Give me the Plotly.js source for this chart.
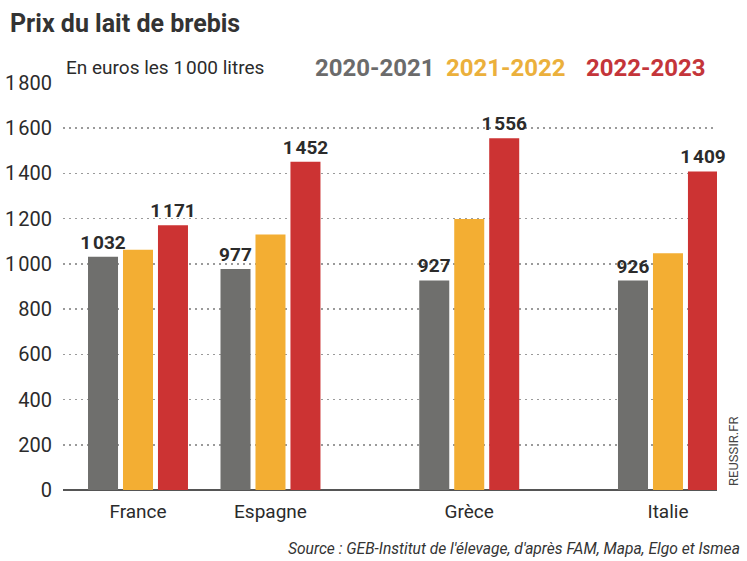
<!DOCTYPE html>
<html>
<head>
<meta charset="utf-8">
<script src="https://cdn.plot.ly/plotly-3.0.1.min.js"></script>
<style>
html,body{margin:0;padding:0;background:#fff;}
#chart{width:747px;height:561px;}
</style>
</head>
<body>
<div id="chart"></div>
<script>
// ---- data ----
const countries = ["France", "Espagne", "Grèce", "Italie"];
const seasons = ["2020-2021", "2021-2022", "2022-2023"];
const prix2020_2021 = [1032, 977, 927, 926];
const prix2021_2022 = [1062, 1130, 1198, 1047];
const prix2022_2023 = [1171, 1452, 1556, 1409];
const yTicks = [0, 200, 400, 600, 800, 1000, 1200, 1400, 1600, 1800];
const yTickLabels = ["0", "200", "400", "600", "800", "1\u200A000", "1\u200A200", "1\u200A400", "1\u200A600", "1\u200A800"];

// ---- styles ----
const colors = ["#6f6f6d", "#f3ae33", "#cc3333"];
const legendColors = ["#6b6b6b", "#ebb03c", "#c4353a"];
const font = "Roboto, sans-serif";
// spacer slots so the groups sit where the original places them
const axisSlots = ["France", "s1", "Espagne", "s2", "s3", "Grèce", "s4", "s5", "Italie"];

function fmt(v){
  const s = String(v);
  return s.length > 3 ? s.slice(0, s.length-3) + "\u200A" + s.slice(-3) : s;
}

const barW = 0.453;
const step = 0.528;
const series = [prix2020_2021, prix2021_2022, prix2022_2023];
const showText = [true, false, true];

const traces = series.map((vals, i) => ({
  type: "bar",
  name: seasons[i],
  x: countries,
  y: vals,
  width: barW,
  offset: -barW/2 + (i-1)*step,
  marker: {color: colors[i], line: {width: 0}},
  text: showText[i] ? vals.map(fmt) : undefined,
  textposition: showText[i] ? "outside" : "none",
  constraintext: "none",
  cliponaxis: false,
  textfont: {family: font, size: 19, color: "#2b2b2b", weight: "bold"},
  hoverinfo: "skip"
}));

const W = 654, H = 407, L = 63, T = 83;
const px = x => (x - L) / W;
const py = y => 1 - (y - T) / H;

const annotations = [
  {text: "Prix du lait de brebis", xref: "paper", yref: "paper", x: px(8), y: py(24),
   xanchor: "left", yanchor: "middle", showarrow: false,
   font: {family: font, size: 25, color: "#333", weight: "bold"}},
  {text: "En euros les 1\u200A000 litres", xref: "paper", yref: "paper", x: px(64), y: py(68),
   xanchor: "left", yanchor: "middle", showarrow: false,
   font: {family: font, size: 19, color: "#2b2b2b"}},
  {text: "Source : GEB-Institut de l'élevage, d'après FAM, Mapa, Elgo et Ismea", xref: "paper", yref: "paper",
   x: px(742), y: py(549), xanchor: "right", yanchor: "middle", showarrow: false,
   font: {family: font, size: 15.6, color: "#333", style: "italic"}},
  {text: "REUSSIR.FR", xref: "paper", yref: "paper", x: px(733), y: py(452),
   xanchor: "center", yanchor: "middle", showarrow: false, textangle: -90,
   font: {family: font, size: 13, color: "#444"}}
];
const legendRight = [437, 568, 708];
seasons.forEach((s, i) => {
  annotations.push({text: s, xref: "paper", yref: "paper", x: px(legendRight[i]), y: py(68),
    xanchor: "right", yanchor: "middle", showarrow: false,
    font: {family: font, size: 24, color: legendColors[i], weight: "bold"}});
});

const layout = {
  width: 747, height: 561,
  margin: {l: L, r: 30, t: T, b: 71, pad: 0},
  paper_bgcolor: "#fff", plot_bgcolor: "#fff",
  showlegend: false,
  barmode: "overlay",
  xaxis: {
    type: "category",
    categoryorder: "array",
    categoryarray: axisSlots,
    tickvals: countries,
    ticktext: countries,
    range: [-1.132, 8.74],
    showgrid: false, zeroline: false, showline: false,
    ticks: "",
    tickfont: {family: font, size: 19, color: "#2b2b2b"},
    ticklabelstandoff: 8,
    fixedrange: true
  },
  yaxis: {
    range: [0, 1800],
    tickvals: yTicks,
    ticktext: yTickLabels,
    showgrid: true,
    gridcolor: "#9a9a9a",
    gridwidth: 1.5,
    griddash: "1.5px,4.5px",
    zeroline: true, zerolinecolor: "#555", zerolinewidth: 2,
    showline: false, ticks: "",
    ticklabelstandoff: 10,
    tickfont: {family: font, size: 20, color: "#2b2b2b"},
    fixedrange: true
  },
  annotations: annotations
};

Plotly.newPlot("chart", traces, layout, {displayModeBar: false, staticPlot: true});
</script>
</body>
</html>
